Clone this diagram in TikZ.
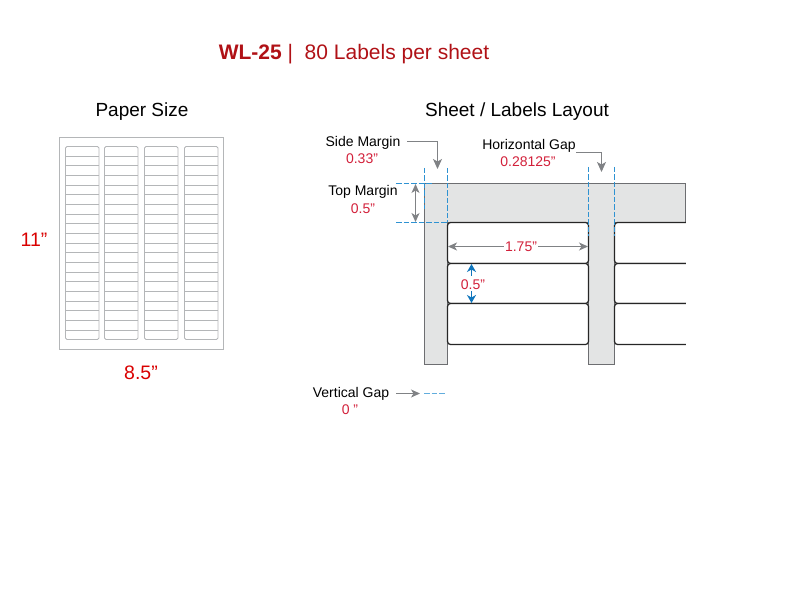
\documentclass[tikz,border=0pt]{standalone}
\usepackage{fontspec}
\setmainfont{Liberation Sans}
\usetikzlibrary{arrows.meta}
\definecolor{wlred}{HTML}{B01116}
\definecolor{dimred}{HTML}{D2203A}
\definecolor{sheetgrey}{HTML}{E3E4E4}
\definecolor{edgegrey}{HTML}{6D6E71}
\definecolor{arrowgrey}{HTML}{808285}
\definecolor{paleline}{HTML}{B4B6B8}
\definecolor{dimblue}{HTML}{0F75BC}
\definecolor{guideblue}{HTML}{2E92D2}
\tikzset{
  titletext/.style={font=\fontsize{21}{24}\selectfont, inner sep=0pt},
  headtext/.style={font=\fontsize{19}{22}\selectfont, inner sep=0pt},
  sizetext/.style={font=\fontsize{19.5}{22}\selectfont, text=red!85!black, inner sep=0pt},
  dimname/.style={font=\fontsize{14}{16}\selectfont, inner sep=0pt},
  dimvalue/.style={font=\fontsize{14}{16}\selectfont, text=dimred, inner sep=0pt},
  guide/.style={guideblue, dash pattern=on 5.5pt off 2pt, line width=1pt},
  pointer/.style={arrowgrey, line width=1.1pt, -{Stealth[length=10pt,width=9pt,inset=2.5pt]}},
  measure/.style={arrowgrey, line width=1pt, -{Stealth[length=9pt,width=8pt,inset=2.5pt]}},
  bluemeasure/.style={dimblue, line width=1.1pt, -{Stealth[length=8pt,width=9pt,inset=2.5pt]}},
  labelbox/.style={draw=black!85, line width=1.2pt, fill=white, rounded corners=3pt}
}
\begin{document}
\begin{tikzpicture}[x=1pt, y=-1pt]
        \useasboundingbox (0, 0) rectangle (792, 612);
        \node [titletext] (T) at (354, 54.5) {\textcolor{wlred}{\textbf{WL-25} |\ \ 80 Labels per sheet}};
        \node [headtext] (PS) at (142, 111.5) {Paper Size};
        \node [headtext] (LL) at (517, 111.5) {Sheet / Labels Layout};
        \node [sizetext] (H) at (34, 239.5) {11”};
        \node [sizetext] (W) at (141, 372.5) {8.5”};
        \draw [paleline, line width=0.8pt] (59.5, 137.5) rectangle (223.5, 349.5);
        \foreach \x in {65.5, 104.5, 144.5, 184.5} {
                \draw [paleline, line width=0.8pt, rounded corners=1.5pt] (\x, 146.5) rectangle ++(33.5, 193);
                \foreach \r in {1, ..., 19}
                        \draw [paleline, line width=0.7pt] (\x, 146.5 + 9.65 * \r) -- ++(33.5, 0);
        }
        \fill [sheetgrey] (447.5, 222.5) rectangle (588.5, 344.5);
        \fill [sheetgrey] (614.5, 222.5) rectangle (622, 344.5);
        \draw [edgegrey, fill=sheetgrey, line width=1pt] (424.5, 364.5) -- (424.5, 183.5) -- (685.5, 183.5) -- (685.5, 222.5) -- (614.5, 222.5) -- (614.5, 364.5) -- (588.5, 364.5) -- (588.5, 222.5) -- (447.5, 222.5) -- (447.5, 364.5) -- cycle;
        \foreach \t/\b in {222.5/263.5, 263.5/303.5, 303.5/344.5} {
                \draw [labelbox] (447.5, \t) rectangle (588.5, \b);
                \fill [white] (622, \t) rectangle (685, \b);
                \draw [labelbox] (686, \t) -- (614.5, \t) -- (614.5, \b) -- (686, \b);
                \fill [white] (686, \t - 1) rectangle (692, \b + 1);
        }
        \coordinate (SL) at (424.5, 168);
        \coordinate (SLE) at (424.5, 209);
        \coordinate (SR) at (447.5, 168);
        \coordinate (SRE) at (447.5, 222);
        \coordinate (GL) at (588.5, 167);
        \coordinate (GLE) at (588.5, 236);
        \coordinate (GR) at (614.5, 167);
        \coordinate (GRE) at (614.5, 236);
        \coordinate (TT) at (396, 183.5);
        \coordinate (TTE) at (432, 183.5);
        \coordinate (TB) at (396, 222.5);
        \coordinate (TBE) at (447, 222.5);
        \draw [guide] (SL) -- (SLE);
        \draw [guide] (SR) -- (SRE);
        \draw [guide] (GL) -- (GLE);
        \draw [guide] (GR) -- (GRE);
        \draw [guide] (TT) -- (TTE);
        \draw [guide] (TB) -- (TBE);
        \node [dimname] (SM) at (363, 143) {Side Margin};
        \node [dimvalue] (SMV) at (362, 159) {0.33”};
        \node [dimname] (TM) at (363, 192) {Top Margin};
        \node [dimvalue] (TMV) at (363, 209) {0.5”};
        \node [dimname] (HG) at (529, 146) {Horizontal Gap};
        \node [dimvalue] (HGV) at (528, 162) {0.28125"};
        \node [dimvalue, inner xsep=1pt] (LW) at (521, 246.5) {1.75"};
        \node [dimvalue] (LH) at (473, 285) {0.5”};
        \node [dimname] (VG) at (351, 393.5) {Vertical Gap};
        \node [dimvalue] (VGV) at (350, 410) {0 ”};
        \coordinate (SMA) at (407, 141.5);
        \coordinate (SMB) at (437.5, 141.5);
        \coordinate (SMC) at (437.5, 169);
        \coordinate (HGA) at (576, 152.5);
        \coordinate (HGB) at (601.5, 152.5);
        \coordinate (HGC) at (601.5, 172);
        \coordinate (TMA) at (415.5, 184);
        \coordinate (TMB) at (415.5, 222);
        \coordinate (LWL) at (448, 246.5);
        \coordinate (LWR) at (588, 246.5);
        \coordinate (LHT) at (471.5, 264);
        \coordinate (LHB) at (471.5, 303);
        \coordinate (LHU) at (471.5, 276);
        \coordinate (LHD) at (471.5, 291);
        \coordinate (VGA) at (396, 393.5);
        \coordinate (VGB) at (420, 393.5);
        \coordinate (VGC) at (424, 393.5);
        \coordinate (VGD) at (446, 393.5);
        \draw [pointer] (SMA) -- (SMB) -- (SMC);
        \draw [pointer] (HGA) -- (HGB) -- (HGC);
        \draw [measure, {Stealth[length=9pt,width=8pt,inset=2.5pt]}-{Stealth[length=9pt,width=8pt,inset=2.5pt]}] (TMA) -- (TMB);
        \draw [measure] (LW) -- (LWL);
        \draw [measure] (LW) -- (LWR);
        \draw [bluemeasure] (LHU) -- (LHT);
        \draw [bluemeasure] (LHD) -- (LHB);
        \draw [measure, line width=1.1pt] (VGA) -- (VGB);
        \draw [guide, guideblue!75] (VGC) -- (VGD);
\end{tikzpicture}
\end{document}
